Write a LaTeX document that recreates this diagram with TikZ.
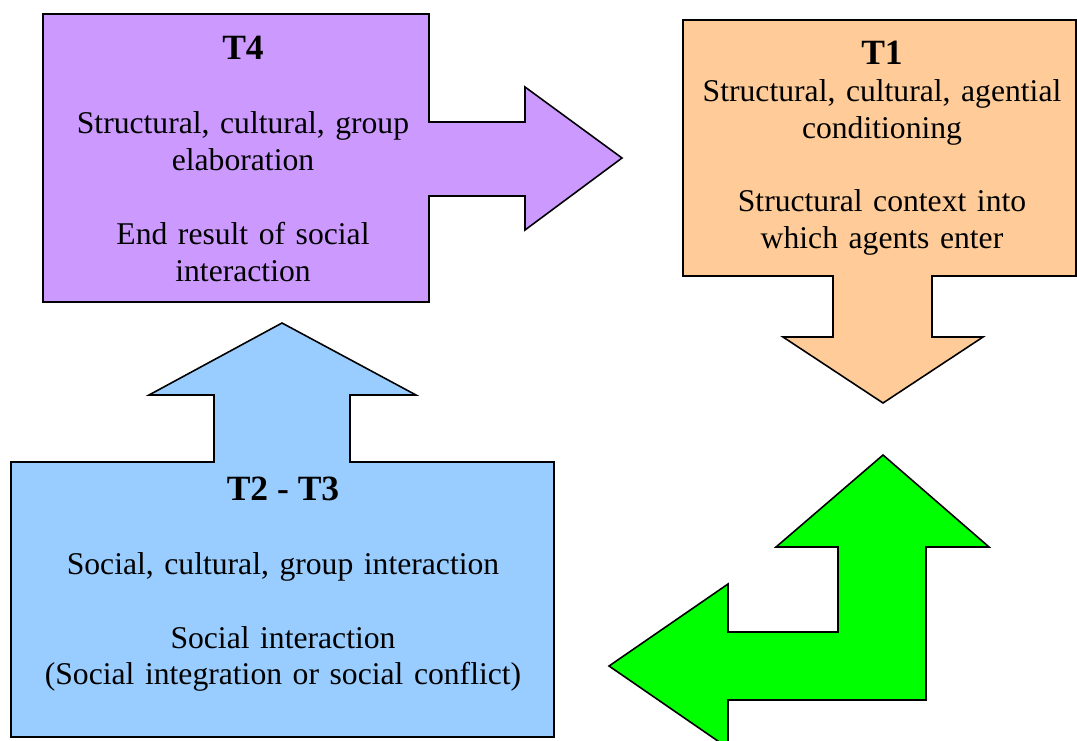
\documentclass[tikz,border=0pt]{standalone}
\usepackage{fontspec}
\setmainfont{Liberation Serif}
\frenchspacing
\definecolor{lilac}{HTML}{CC99FF}
\definecolor{peach}{HTML}{FFCC99}
\definecolor{skyblue}{HTML}{99CCFF}
\definecolor{brightgreen}{HTML}{00FF00}
\tikzset{
	blockshape/.style={draw=black, line width=0.45pt, line join=miter},
	phasetitle/.style={anchor=base, inner sep=0pt, font=\fontsize{10.1}{12}\selectfont\bfseries},
	phasetext/.style={anchor=base, inner sep=0pt, align=center, text width=5cm, font=\fontsize{9}{10.4}\selectfont}
}

\begin{document}
\begin{tikzpicture}[x=0.01cm, y=-0.01cm]
				%%%%% START %%%%%
				\useasboundingbox (0,0) rectangle (1077,740);
				\clip (0,0) rectangle (1077,740);
				
				% T4 box with arrow to the right
				\draw[blockshape, fill=lilac] (43,14) -- (429,14) -- (429,122) -- (525,122) -- (525,87) -- (622,158) -- (525,230) -- (525,196) -- (429,196) -- (429,302) -- (43,302) -- cycle;
				
				% T1 box with arrow down
				\draw[blockshape, fill=peach] (683,20) -- (1076,20) -- (1076,276) -- (932,276) -- (932,337) -- (983,337) -- (883,403) -- (783,337) -- (833,337) -- (833,276) -- (683,276) -- cycle;
				
				% T2 - T3 box with arrow up
				\draw[blockshape, fill=skyblue] (11,462) -- (214,462) -- (214,395) -- (149,395) -- (282,323) -- (416,395) -- (350,395) -- (350,462) -- (554,462) -- (554,737) -- (11,737) -- cycle;
				
				% bent arrow
				\draw[blockshape, fill=brightgreen] (883,455) -- (989,547) -- (926,547) -- (926,700) -- (728,700) -- (728,748) -- (609,666) -- (728,584) -- (728,632) -- (838,632) -- (838,547) -- (776,547) -- cycle;
				
				\node[phasetitle] (t4title) at (243,60) {T4};
				\node[phasetext] (t4top) at (243,134) {Structural, cultural, group\\elaboration};
				\node[phasetext] (t4bottom) at (243,245) {End result of social\\interaction};
				
				\node[phasetitle] (t1title) at (882,65) {T1};
				\node[phasetext] (t1top) at (882,101.5) {Structural, cultural, agential\\conditioning};
				\node[phasetext] (t1bottom) at (882,211.5) {Structural context into\\which agents enter};
				
				\node[phasetitle] (t23title) at (283,500.5) {T2 - T3};
				\node[phasetext] (t23top) at (283,574.3) {Social, cultural, group interaction};
				\node[phasetext] (t23bottom) at (283,648.3) {Social interaction\\(Social integration or social conflict)};
				%%%%% END %%%%%
\end{tikzpicture}
\end{document}
